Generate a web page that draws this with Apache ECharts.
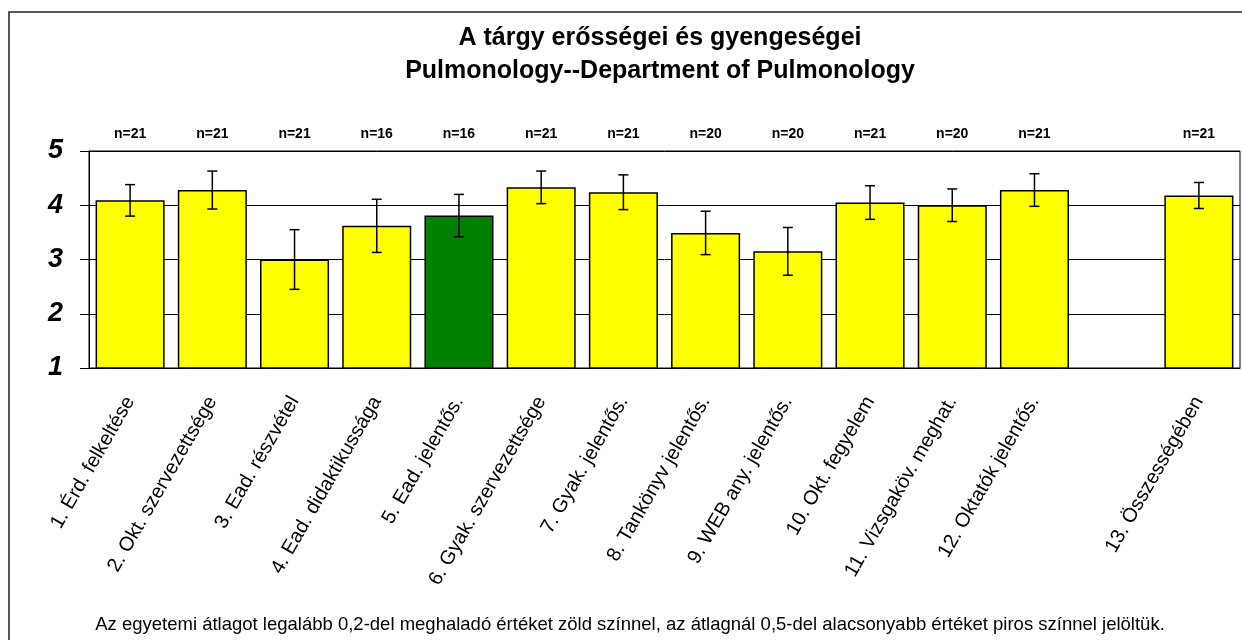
<!DOCTYPE html>
<html>
<head>
<meta charset="utf-8">
<script src="https://cdn.jsdelivr.net/npm/echarts@6/dist/echarts.min.js"></script>
<style>
  html, body { margin: 0; padding: 0; background: #fff; }
  #chart { width: 1242px; height: 640px; }
</style>
</head>
<body>
<div id="chart"></div>
<script>
// category labels (index 12 is the empty gap before the overall score)
const categories = [
  '1. Érd. felkeltése', '2. Okt. szervezettsége', '3. Ead. részvétel',
  '4. Ead. didaktikussága', '5. Ead. jelentős.', '6. Gyak. szervezettsége',
  '7. Gyak. jelentős.', '8. Tankönyv jelentős.', '9. WEB any. jelentős.',
  '10. Okt. fegyelem', '11. Vizsgaköv. meghat.', '12. Oktatók jelentős.',
  '', '13. Összességében'
]
const means = [4.09, 4.28, 3.00, 3.62, 3.81, 4.33, 4.24, 3.49, 3.15, 4.05, 4.00, 4.28, null, 4.18]
const errors = [0.29, 0.35, 0.55, 0.49, 0.39, 0.30, 0.32, 0.40, 0.44, 0.31, 0.30, 0.30, null, 0.24]
const counts = ['n=21', 'n=21', 'n=21', 'n=16', 'n=16', 'n=21', 'n=21', 'n=20', 'n=20', 'n=21', 'n=20', 'n=21', '', 'n=21']
// 'g' = above university average by 0.2+, 'y' = normal
const marks = ['y', 'y', 'y', 'y', 'g', 'y', 'y', 'y', 'y', 'y', 'y', 'y', '', 'y']
const yTicks = [1, 2, 3, 4, 5]

const FONT = '"Liberation Sans", Arial, sans-serif'
const fill = { y: '#FFFF00', g: '#008000' }

const chart = echarts.init(document.getElementById('chart'))

const barData = means.map((v, i) => v == null ? '-' : {
  value: v,
  itemStyle: { color: fill[marks[i]] }
})
const errData = []
means.forEach((v, i) => {
  if (v != null) errData.push([i, v - errors[i], v + errors[i]])
})

chart.setOption({
  animation: false,
  title: {
    text: 'A tárgy erősségei és gyengeségei\nPulmonology--Department of Pulmonology',
    left: 655,
    top: 17,
    textAlign: 'center',
    textStyle: { fontFamily: FONT, fontSize: 25, fontWeight: 'bold', color: '#000', lineHeight: 33 }
  },
  graphic: [
    {
      type: 'rect', silent: true,
      shape: { x: 9, y: 12, width: 1300, height: 700 },
      style: { fill: 'none', stroke: '#222', lineWidth: 1.5 }
    },
    {
      type: 'text', silent: true, x: 630, y: 625,
      style: {
        text: 'Az egyetemi átlagot legalább 0,2-del meghaladó értéket zöld színnel, az átlagnál 0,5-del alacsonyabb értéket piros színnel jelöltük.',
        font: '18.5px ' + FONT, fill: '#000', align: 'center', verticalAlign: 'middle'
      }
    }
  ],
  grid: {
    left: 89, right: 2, top: 151, bottom: 272,
    show: true, borderColor: '#000', borderWidth: 1, backgroundColor: 'transparent'
  },
  xAxis: [
    {
      type: 'category',
      data: categories,
      axisLine: { lineStyle: { color: '#000', width: 1 } },
      axisTick: { length: 6, lineStyle: { color: '#000' } },
      axisLabel: {
        rotate: 60, interval: 0, margin: 30,
        fontFamily: FONT, fontSize: 20, color: '#000'
      }
    },
    {
      type: 'category',
      position: 'top',
      data: counts,
      axisLine: { show: false },
      axisTick: { show: false },
      axisLabel: { interval: 0, margin: 10, fontFamily: FONT, fontSize: 14, fontWeight: 'bold', color: '#000' }
    }
  ],
  yAxis: {
    type: 'value',
    min: yTicks[0], max: yTicks[yTicks.length - 1], interval: 1,
    axisLine: { show: true, lineStyle: { color: '#000' } },
    axisTick: { show: true, length: 9, lineStyle: { color: '#000' } },
    splitLine: { lineStyle: { color: '#000', width: 1 } },
    axisLabel: {
      margin: 26,
      fontFamily: FONT, fontSize: 27, fontWeight: 'bold', fontStyle: 'italic', color: '#000'
    }
  },
  series: [
    {
      type: 'bar',
      data: barData,
      barCategoryGap: '16%',
      itemStyle: { borderColor: '#000', borderWidth: 1.5 }
    },
    {
      type: 'custom',
      data: errData,
      z: 10,
      renderItem: function (params, api) {
        const x = api.value(0)
        const lo = api.coord([x, api.value(1)])
        const hi = api.coord([x, api.value(2)])
        const cap = 5
        const st = { stroke: '#000', lineWidth: 1.5 }
        return {
          type: 'group',
          children: [
            { type: 'line', shape: { x1: hi[0], y1: hi[1], x2: lo[0], y2: lo[1] }, style: st },
            { type: 'line', shape: { x1: hi[0] - cap, y1: hi[1], x2: hi[0] + cap, y2: hi[1] }, style: st },
            { type: 'line', shape: { x1: lo[0] - cap, y1: lo[1], x2: lo[0] + cap, y2: lo[1] }, style: st }
          ]
        }
      }
    }
  ]
})
</script>
</body>
</html>
